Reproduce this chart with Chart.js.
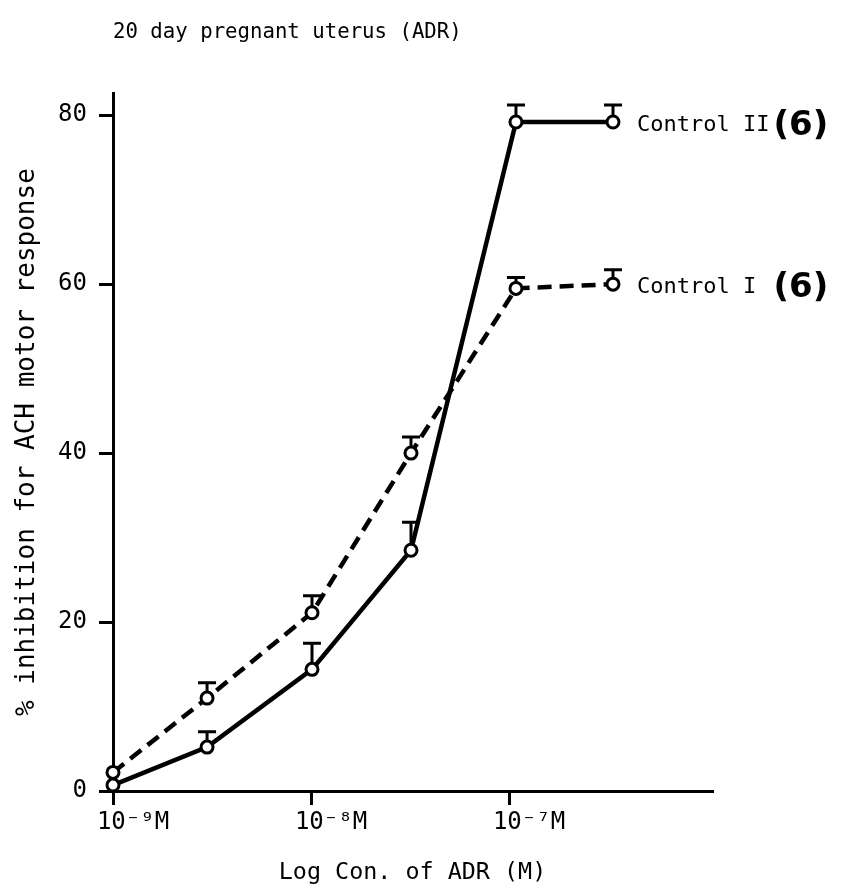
<!DOCTYPE html>
<html><head><meta charset="utf-8">
<script src="https://cdn.jsdelivr.net/npm/chart.js@4.4.1/dist/chart.umd.min.js"></script>
<style>html,body{margin:0;padding:0;background:#fff}canvas{display:block}</style>
</head><body>
<canvas id="c" width="842" height="894"></canvas>
<script>
const titleText = '20 day pregnant uterus (ADR)';
const xAxisTitle = 'Log Con. of ADR (M)';
const yAxisTitle = '% inhibition for ACH motor response';
const logConc = [-9, -8.525, -7.995, -7.495, -6.965, -6.475];
const control2 = [0.7, 5.2, 14.4, 28.5, 79.2, 79.2];
const control2Err = [0, 1.8, 3.1, 3.3, 2.0, 2.0];
const control1 = [2.2, 11.0, 21.1, 40.0, 59.5, 60.0];
const control1Err = [0, 1.8, 2.0, 1.9, 1.3, 1.7];
const seriesNames = ['Control II', 'Control I '];
const seriesN = ['(6)', '(6)'];
const xTickValues = [-9, -8, -7];
const xTickLabels = ['10\u207B\u2079M', '10\u207B\u2078M', '10\u207B\u2077M'];
const yTickValues = [0, 20, 40, 60, 80];

const MONO = 'DejaVu Sans Mono';
Chart.defaults.color = '#000';

const errorBars = {
  id: 'errorBars',
  beforeDatasetsDraw(chart) {
    const {ctx, scales: {x, y}} = chart;
    ctx.save();
    ctx.strokeStyle = '#000';
    ctx.lineWidth = 3;
    chart.data.datasets.forEach(ds => {
      ds.errors.forEach((e, j) => {
        if (!e) return;
        const px = x.getPixelForValue(ds.data[j].x);
        const p0 = y.getPixelForValue(ds.data[j].y);
        const p1 = y.getPixelForValue(ds.data[j].y + e);
        ctx.beginPath();
        ctx.moveTo(px, p0); ctx.lineTo(px, p1);
        ctx.moveTo(px - 9, p1); ctx.lineTo(px + 9, p1);
        ctx.stroke();
      });
    });
    ctx.restore();
  }
};

const endLabels = {
  id: 'endLabels',
  afterDatasetsDraw(chart) {
    const {ctx} = chart;
    ctx.save();
    ctx.fillStyle = '#000';
    ctx.textBaseline = 'middle';
    ctx.textAlign = 'left';
    chart.data.datasets.forEach((ds, i) => {
      const meta = chart.getDatasetMeta(i);
      const pt = meta.data[meta.data.length - 1];
      const tx = pt.x + 24, ty = pt.y + 3;
      ctx.font = '22px "' + MONO + '"';
      ctx.fillText(ds.label, tx, ty);
      const w = ctx.measureText(ds.label).width;
      ctx.font = 'bold 34px "DejaVu Sans"';
      ctx.fillText(ds.nLabel, tx + w + 4, ty + 1);
    });
    ctx.restore();
  }
};

function pts(vals) { return vals.map((v, i) => ({x: logConc[i], y: v})); }

new Chart(document.getElementById('c'), {
  type: 'line',
  data: {
    datasets: [
      {
        label: seriesNames[0], nLabel: seriesN[0],
        data: pts(control2), errors: control2Err,
        borderColor: '#000', borderWidth: 4.5, tension: 0,
        pointRadius: 6, pointBorderWidth: 3,
        pointBackgroundColor: '#fff', pointBorderColor: '#000',
        clip: false
      },
      {
        label: seriesNames[1], nLabel: seriesN[1],
        data: pts(control1), errors: control1Err,
        borderColor: '#000', borderWidth: 4.5, borderDash: [14, 8], tension: 0,
        pointRadius: 6, pointBorderWidth: 3,
        pointBackgroundColor: '#fff', pointBorderColor: '#000',
        clip: false
      }
    ]
  },
  options: {
    responsive: false,
    animation: false,
    events: [],
    layout: {padding: {top: 0, right: 130, bottom: 0, left: 0}},
    plugins: {
      legend: {display: false},
      tooltip: {enabled: false},
      title: {
        display: true, text: titleText, align: 'start', fullSize: false,
        padding: {top: 20, bottom: 48.4},
        font: {family: MONO, size: 20.7, weight: 'normal', lineHeight: 1.2},
        color: '#000'
      }
    },
    scales: {
      x: {
        type: 'linear', min: -9, max: -5.975,
        afterBuildTicks: s => { s.ticks = xTickValues.map(v => ({value: v})); },
        afterFit: s => { s.height = 103; },
        ticks: {
          callback: (v, i) => xTickLabels[i],
          font: {family: MONO, size: 24},
          color: '#000', padding: 3, labelOffset: 20,
          maxRotation: 0, autoSkip: false
        },
        grid: {drawOnChartArea: false, drawTicks: true, tickLength: 14, color: '#000', lineWidth: 3},
        border: {display: true, color: '#000', width: 3},
        title: {
          display: true, text: xAxisTitle,
          font: {family: MONO, size: 23.4, lineHeight: 1.2},
          padding: {top: 0, bottom: 7}, color: '#000'
        }
      },
      y: {
        type: 'linear', min: 0, max: 82.6,
        afterBuildTicks: s => { s.ticks = yTickValues.map(v => ({value: v})); },
        afterFit: s => { s.width = 113; },
        ticks: {
          font: {family: MONO, size: 24},
          color: '#000', padding: 12, autoSkip: false
        },
        grid: {drawOnChartArea: false, drawTicks: true, tickLength: 14, color: '#000', lineWidth: 3},
        border: {display: true, color: '#000', width: 3},
        title: {
          display: true, text: yAxisTitle,
          font: {family: MONO, size: 26, lineHeight: 1.2},
          padding: {top: 11.4, bottom: 0}, color: '#000'
        }
      }
    }
  },
  plugins: [errorBars, endLabels]
});
</script>
</body></html>
